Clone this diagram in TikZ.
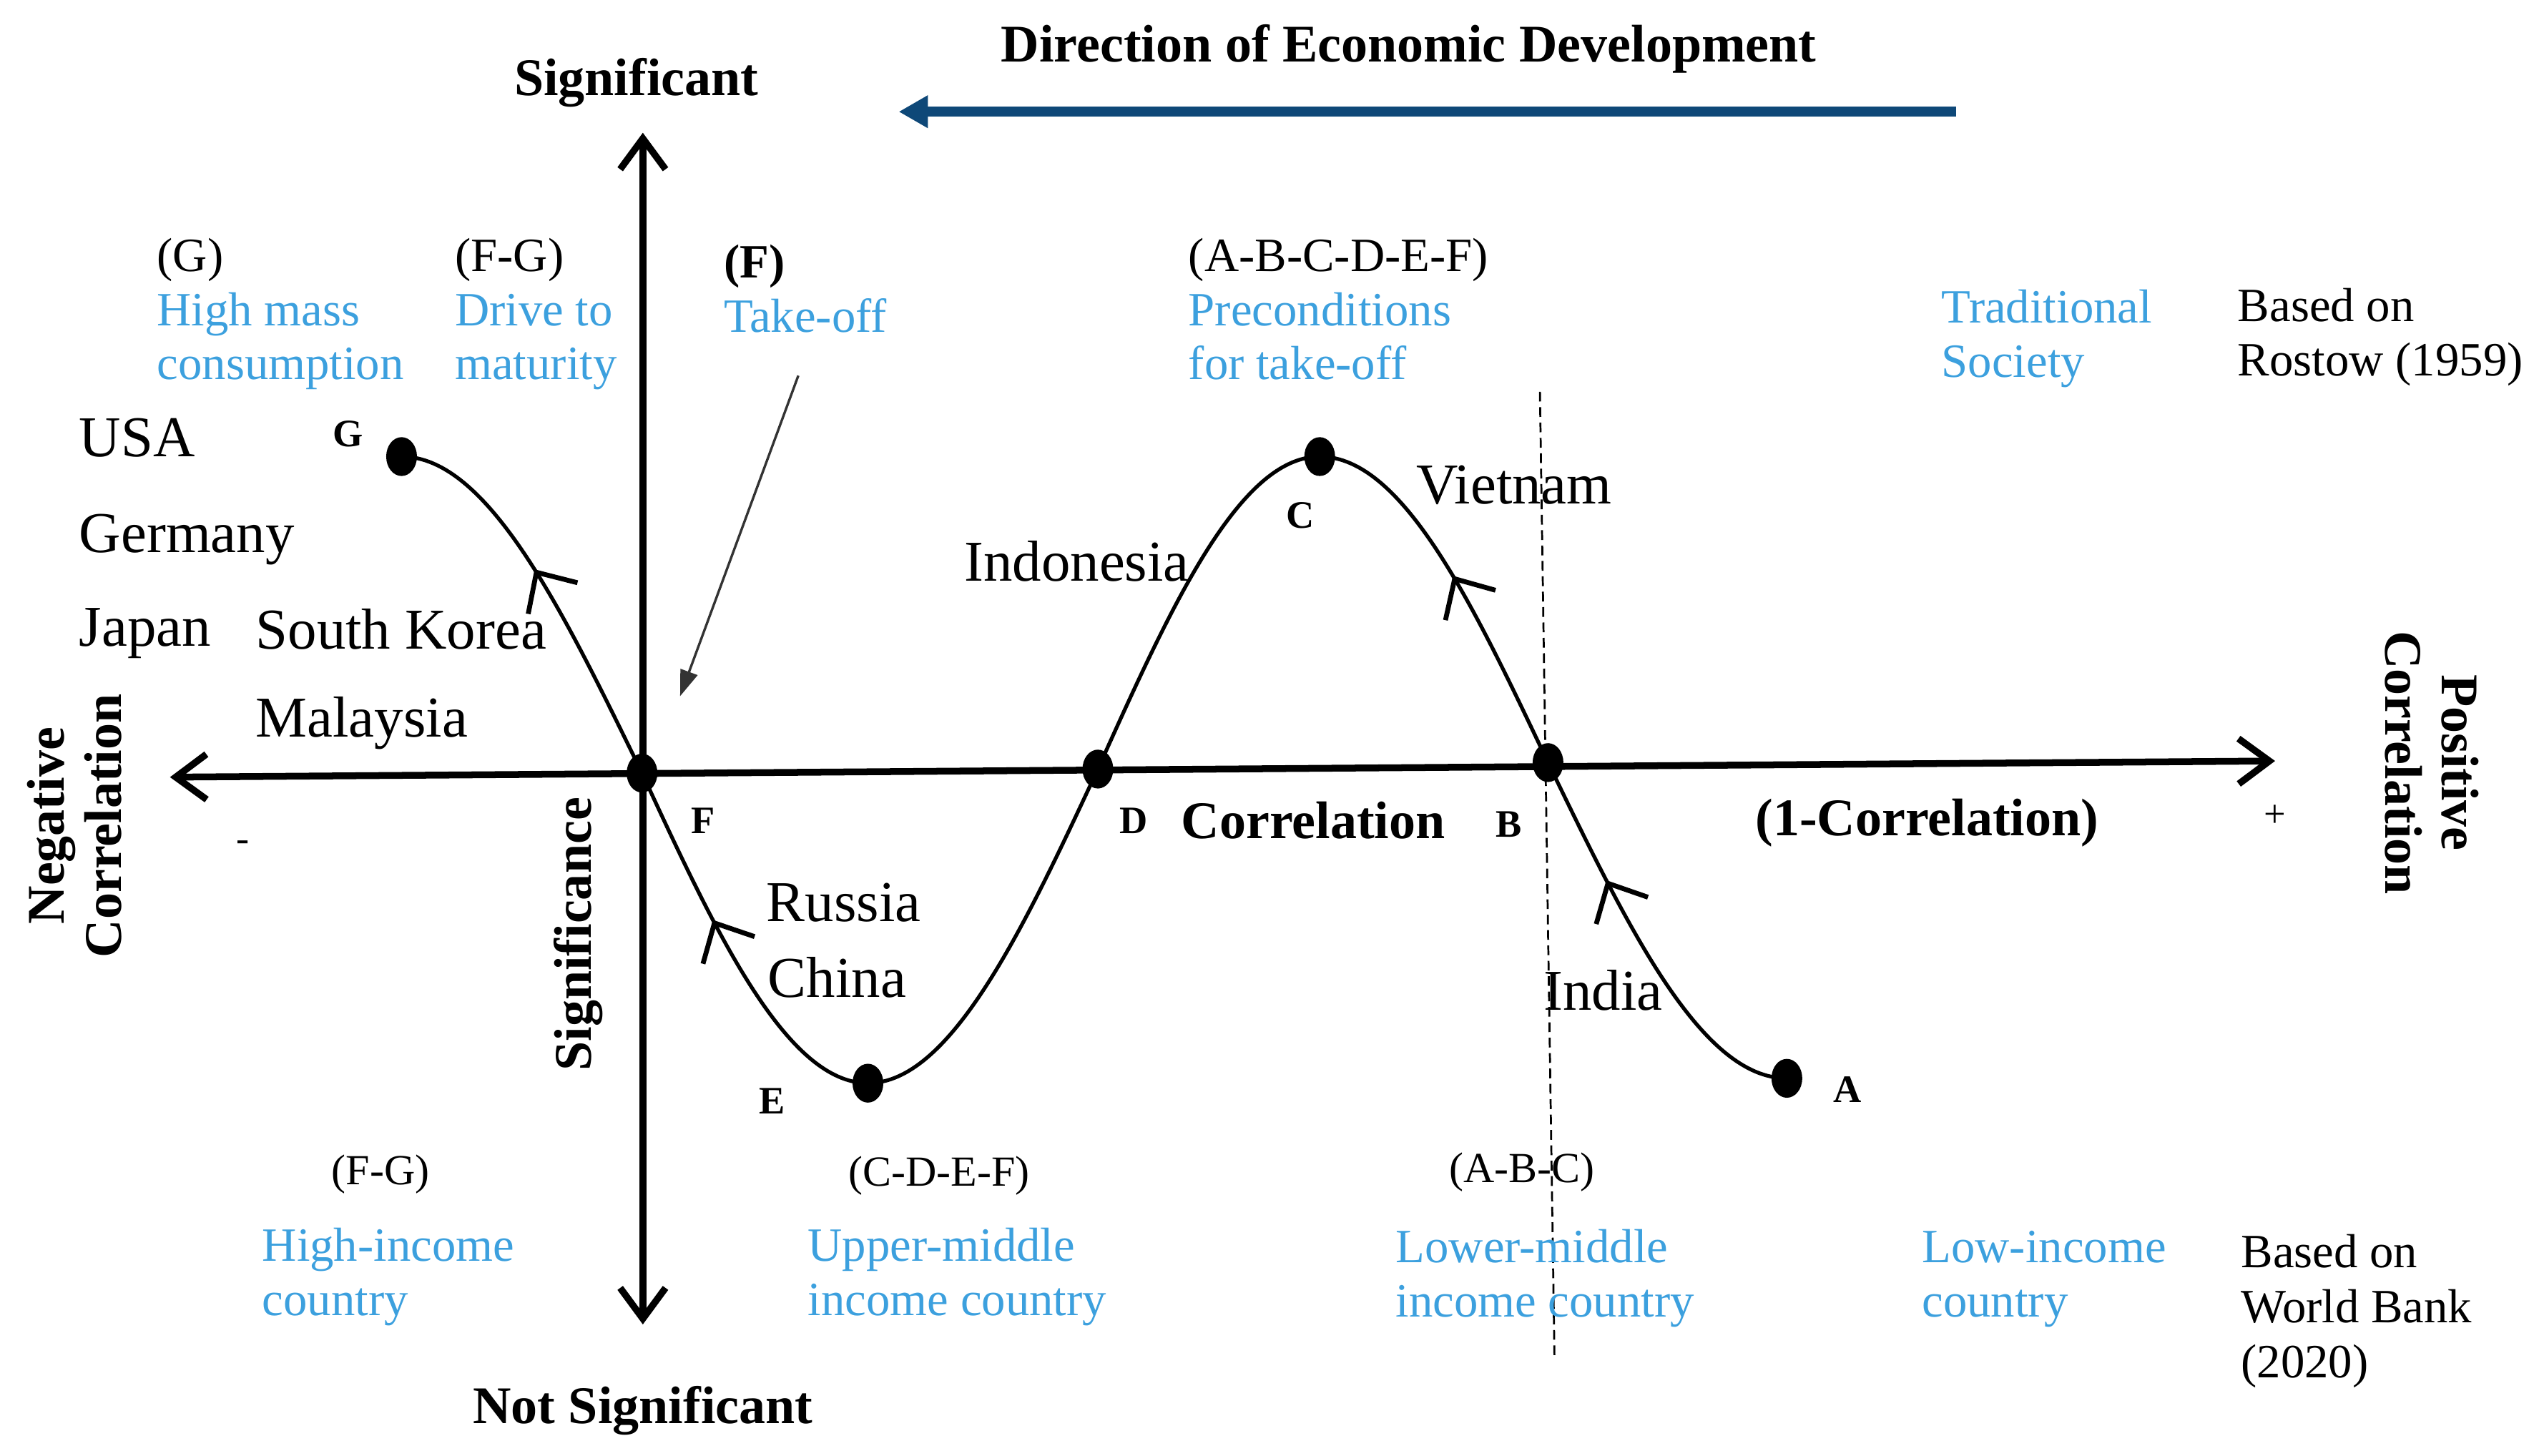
\documentclass[tikz,border=0pt]{standalone}
\usepackage{fontspec}
\setmainfont{Liberation Serif}
\usetikzlibrary{arrows.meta,shapes.geometric,decorations.markings}
\definecolor{lblue}{RGB}{60,160,222}
\definecolor{dblue}{RGB}{14,72,120}
\newcommand{\myfs}[2]{\fontsize{#1}{#2}\selectfont}
\begin{document}
\begin{tikzpicture}[x=1pt,y=-1pt,
  every node/.style={inner sep=0pt,outer sep=0pt},
  country/.style={anchor=base west,font=\myfs{35.7}{40}},
  countryc/.style={anchor=base,font=\myfs{35.7}{40}},
  heading/.style={anchor=base,font=\bfseries\myfs{32.7}{35}},
  ptlabel/.style={anchor=base,font=\bfseries\myfs{24}{26}},
  stage/.style={anchor=base west,align=left,font=\myfs{29.5}{33.5}},
  wbcode/.style={anchor=base,font=\myfs{26.5}{30}},
  dot/.style={ellipse,fill=black,minimum width=19pt,minimum height=24pt},
  axisline/.style={line width=4.2pt,line cap=butt},
  curveline/.style={line width=2.3pt},
  flowmark/.style={postaction={decorate,decoration={markings,
      mark=at position #1 with {\arrow{Straight Barb[length=19pt,width=36pt,line width=3pt]}}}}},
  dashline/.style={line width=1.2pt,dash pattern=on 6pt off 3.5pt},
  dirarrow/.style={line width=6pt,draw=dblue,-{Triangle[length=18pt,width=19pt]}},
  pointer/.style={line width=1.5pt,draw=black!80,-{Triangle[length=16pt,width=11pt]}}
]
\useasboundingbox (0,0) rectangle (1568,899);

% axes
\coordinate (xl) at (105,480);
\coordinate (xr) at (1405,470);
\coordinate (yt) at (397,82);
\coordinate (yb) at (397,818);
\draw[axisline,{Straight Barb[length=19pt,width=28pt]}-{Straight Barb[length=19pt,width=28pt]}] (xl) -- (xr);
\draw[axisline,{Straight Barb[length=19pt,width=28pt]}-{Straight Barb[length=19pt,width=28pt]}] (yt) -- (yb);

% dashed divider
\coordinate (dtop) at (951,242);
\coordinate (dbot) at (960,840);
\draw[dashline] (dtop) -- (dbot);

% points
\node[dot] (G) at (248,282) {};
\node[dot] (F) at (396.5,477.5) {};
\node[dot] (E) at (536,669) {};
\node[dot] (D) at (678,475) {};
\node[dot] (C) at (815,282) {};
\node[dot] (B) at (956,471) {};
\node[dot] (A) at (1103.5,666) {};

% curve A -> G
\draw[curveline,flowmark=0.68] (A.center) .. controls (1050,666) and (1004.5,571) .. (B.center);
\draw[curveline,flowmark=0.53] (B.center) .. controls (910,374) and (866.5,282) .. (C.center);
\draw[curveline] (C.center) .. controls (765,282) and (722.5,376) .. (D.center);
\draw[curveline] (D.center) .. controls (632,574) and (587,669) .. (E.center);
\draw[curveline,flowmark=0.59] (E.center) .. controls (485.5,669) and (441.5,575) .. (F.center);
\draw[curveline,flowmark=0.56] (F.center) .. controls (348,378) and (301.5,282) .. (G.center);

% point labels
\node[ptlabel] (lG) at (215,276) {G};
\node[ptlabel] (lC) at (803,326) {C};
\node[ptlabel] (lF) at (434,515) {F};
\node[ptlabel] (lD) at (700,515) {D};
\node[ptlabel] (lB) at (932,517) {B};
\node[ptlabel] (lE) at (477,688) {E};
\node[ptlabel] (lA) at (1141,681) {A};

% axis titles
\node[heading] (sig) at (393,59) {Significant};
\node[heading] (nsig) at (397,879) {Not Significant};
\node[heading] (corr) at (811,518) {Correlation};
\node[heading] (ocorr) at (1190,516) {(1-Correlation)};
\node[heading,anchor=center,rotate=90] (signif) at (357,577) {Significance};
\node[anchor=center,rotate=90,align=center,font=\bfseries\myfs{32.7}{35}] (neg) at (46,510) {Negative\\Correlation};
\node[anchor=center,rotate=-90,align=center,font=\bfseries\myfs{32.7}{35}] (pos) at (1502,471) {Positive\\Correlation};
\node[anchor=base,font=\myfs{24}{26}] (minus) at (150,526) {-};
\node[anchor=base,font=\myfs{24}{26}] (plus) at (1405,511) {+};

% direction of development
\node[heading] (dirtext) at (870,38) {Direction of Economic Development};
\coordinate (dirS) at (1208,69);
\coordinate (dirE) at (555,69);
\draw[dirarrow] (dirS) -- (dirE);

% Rostow stages (y = baseline of last line)
\node[stage] (sG) at (97,234.5) {(G)\\\textcolor{lblue}{High mass}\\\textcolor{lblue}{consumption}};
\node[stage] (sFG) at (281,234.5) {(F-G)\\\textcolor{lblue}{Drive to}\\\textcolor{lblue}{maturity}};
\node[stage] (sF) at (447,205) {\textbf{(F)}\\\textcolor{lblue}{Take-off}};
\node[stage] (sAF) at (734,234.5) {(A-B-C-D-E-F)\\\textcolor{lblue}{Preconditions}\\\textcolor{lblue}{for take-off}};
\node[stage] (sT) at (1199,233) {\textcolor{lblue}{Traditional}\\\textcolor{lblue}{Society}};
\node[stage] (rostow) at (1382,232) {Based on\\Rostow (1959)};

\coordinate (toS) at (493,232);
\coordinate (toE) at (420,430);
\draw[pointer] (toS) -- (toE);

% countries
\node[country] (usa) at (49,282) {USA};
\node[country] (ger) at (49,341) {Germany};
\node[country] (jap) at (49,399) {Japan};
\node[country] (kor) at (158,401) {South Korea};
\node[country] (mal) at (158,455) {Malaysia};
\node[countryc] (ind) at (665,359) {Indonesia};
\node[countryc] (vie) at (935,311) {Vietnam};
\node[countryc] (rus) at (521,569) {Russia};
\node[countryc] (chn) at (517,616) {China};
\node[countryc] (inda) at (990,624) {India};

% World Bank groups
\node[wbcode] (wFG) at (235,731.5) {(F-G)};
\node[wbcode] (wCF) at (580,732.5) {(C-D-E-F)};
\node[wbcode] (wAC) at (940,730.5) {(A-B-C)};
\node[stage,text=lblue] (hi) at (162,812.5) {High-income\\country};
\node[stage,text=lblue] (umi) at (499,812.5) {Upper-middle\\income country};
\node[stage,text=lblue] (lmi) at (862,813.5) {Lower-middle\\income country};
\node[stage,text=lblue] (li) at (1187,813.5) {Low-income\\country};
\node[stage,font=\myfs{29.5}{34}] (wb) at (1384,851) {Based on\\World Bank\\(2020)};
\end{tikzpicture}
\end{document}
